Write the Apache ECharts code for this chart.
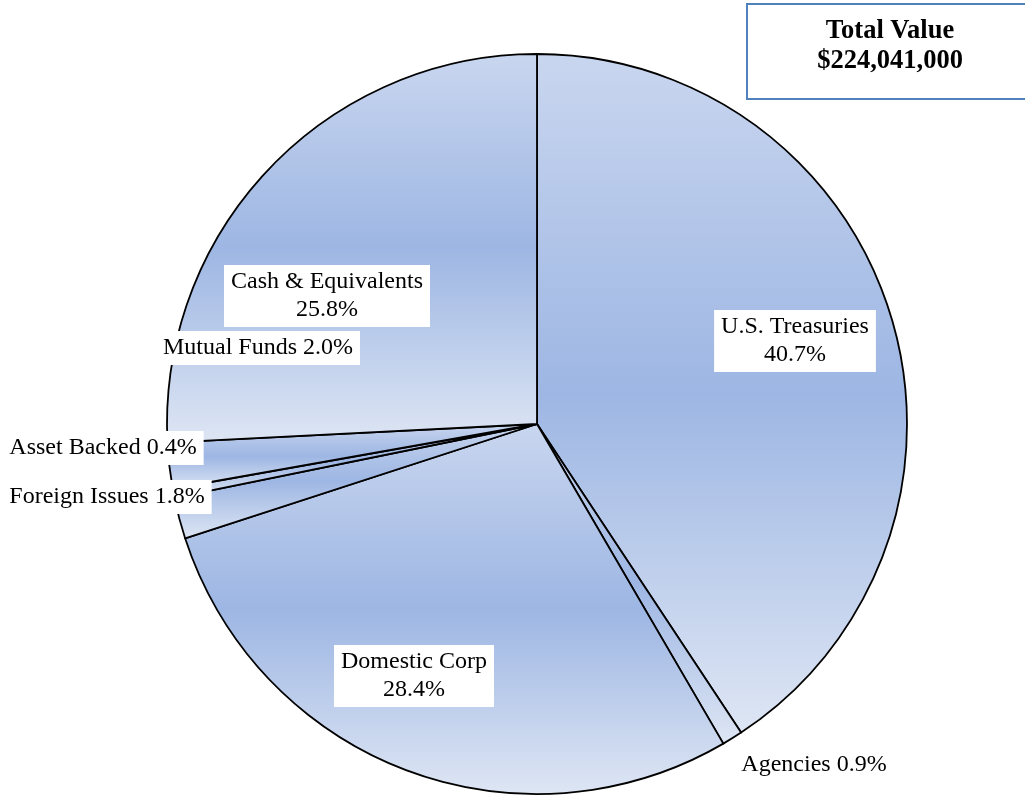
<!DOCTYPE html>
<html>
<head>
<meta charset="utf-8">
<script src="https://cdn.jsdelivr.net/npm/echarts@6/dist/echarts.min.js"></script>
<style>
html,body{margin:0;padding:0;background:#fff;}
#c{width:1025px;height:797px;}
</style>
</head>
<body>
<div id="c"></div>
<script>
// ---- data ----
var categories = ['U.S. Treasuries', 'Agencies', 'Domestic Corp', 'Foreign Issues', 'Asset Backed', 'Mutual Funds', 'Cash & Equivalents'];
var percents   = [40.7, 0.9, 28.4, 1.8, 0.4, 2.0, 25.8];
var twoLine    = [true, false, true, false, false, false, true];
var totalTitle = 'Total Value';
var totalValue = '$224,041,000';

// ---- label placement (layout, not data) ----
var labelPos = [
  [795, 341], [814, 765], [414, 676], [107, 497], [103, 448], [258, 348], [327, 296]
];

var fill = {
  type: 'linear', x: 0, y: 0, x2: 0, y2: 1,
  colorStops: [
    {offset: 0, color: '#c9d6ef'},
    {offset: 0.5, color: '#9db6e3'},
    {offset: 1, color: '#dee6f4'}
  ]
};

var chart = echarts.init(document.getElementById('c'), null, {renderer: 'canvas'});
var data = categories.map(function (n, i) {
  return {name: n, value: percents[i]};
});

chart.setOption({
  animation: false,
  backgroundColor: '#ffffff',
  series: [{
    type: 'pie',
    center: [537, 424],
    radius: [0, 370],
    startAngle: 90,
    clockwise: true,
    avoidLabelOverlap: false,
    data: data,
    itemStyle: {
      color: fill,
      borderColor: '#000000',
      borderWidth: 1.8
    },
    emphasis: {disabled: true},
    labelLine: {show: false},
    label: {
      show: true,
      position: 'outside',
      fontFamily: '"Liberation Serif", "Times New Roman", serif',
      fontSize: 24,
      lineHeight: 28,
      color: '#000',
      backgroundColor: '#ffffff',
      padding: [3, 7, 3, 7],
      align: 'center',
      formatter: function (p) {
        var v = percents[p.dataIndex].toFixed(1) + '%';
        return twoLine[p.dataIndex] ? p.name + '\n' + v : p.name + ' ' + v;
      }
    },
    labelLayout: function (p) {
      var pos = labelPos[p.dataIndex];
      return {x: pos[0], y: pos[1], align: 'center', verticalAlign: 'middle'};
    }
  }],
  graphic: [{
    type: 'rect',
    shape: {x: 747, y: 4, width: 300, height: 95},
    style: {fill: '#ffffff', stroke: '#4f81bd', lineWidth: 2}
  }, {
    type: 'text',
    x: 890, y: 46,
    style: {
      text: totalTitle + '\n' + totalValue,
      fontFamily: '"Liberation Serif", "Times New Roman", serif',
      fontWeight: 'bold',
      fontSize: 26.5,
      lineHeight: 30,
      fill: '#000',
      align: 'center',
      verticalAlign: 'middle'
    }
  }]
});
</script>
</body>
</html>
